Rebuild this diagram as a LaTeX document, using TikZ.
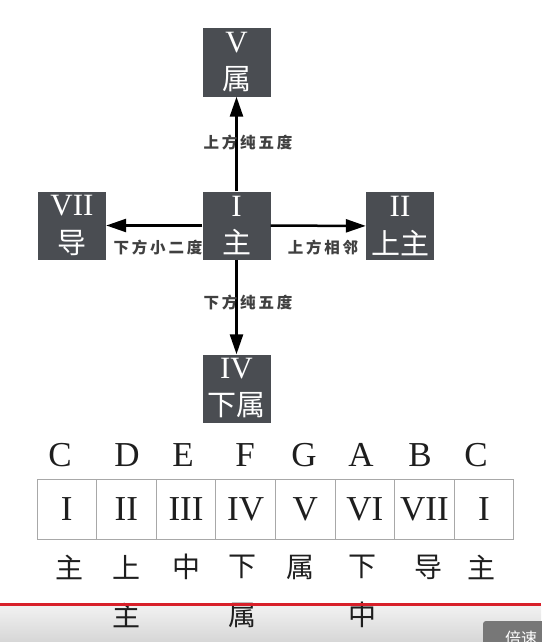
\documentclass[tikz,border=0pt]{standalone}
\usepackage{fontspec}
\setmainfont{Liberation Serif}
\newfontfamily\cjk{Noto Sans CJK SC}
\newfontfamily\cjklbl[LetterSpace=18]{Noto Sans CJK SC}
\usetikzlibrary{arrows.meta}
\definecolor{boxgray}{HTML}{4A4D52}
\definecolor{cellgray}{HTML}{A8A8A8}
\definecolor{inkdark}{HTML}{1E1E1E}
\definecolor{barred}{HTML}{D8202A}
\definecolor{bartop}{HTML}{F2F2F2}
\definecolor{barbottom}{HTML}{D6D6D6}
\definecolor{btngray}{HTML}{777777}
\begin{document}
\begin{tikzpicture}[x=1pt,y=-1pt,
  keybox/.style={fill=boxgray, draw=none, minimum width=68pt, minimum height=68pt, inner sep=0pt},
  boxnum/.style={text=white, font=\fontsize{31}{31}\selectfont, inner sep=0pt},
  boxzh/.style={text=white, font=\cjk\fontsize{29}{29}\selectfont, inner sep=0pt},
  rel/.style={line width=2.5pt, -{Triangle[length=20pt,width=13pt]}},
  rellbl/.style={font=\cjklbl\bfseries\fontsize{15.5}{15.5}\selectfont, inner sep=0pt, text=inkdark!85},
  note/.style={font=\fontsize{35}{35}\selectfont, inner sep=0pt, text=inkdark},
  cell/.style={draw=cellgray, line width=1pt, minimum width=59.6pt, minimum height=60pt, inner sep=0pt, font=\fontsize{35}{35}\selectfont, text=inkdark},
  deg/.style={font=\cjk\fontsize{28}{28}\selectfont, inner sep=0pt, text=inkdark}]
\useasboundingbox (0,0) rectangle (541,642);
\fill[white] (0,0) rectangle (541,642);

% key boxes
\node[keybox] (v) at (236.5,62.5) {};
\node[keybox] (i) at (236.5,225.5) {};
\node[keybox] (vii) at (72,225.5) {};
\node[keybox] (ii) at (400,226) {};
\node[keybox] (iv) at (236.5,388.5) {};

\node[boxnum] (vnum) at ([yshift=19.5pt]v.center) {V};
\node[boxzh] (vzh) at ([yshift=-17pt]v.center) {属};
\node[boxnum] (inum) at ([yshift=19.5pt]i.center) {I};
\node[boxzh] (izh) at ([yshift=-17pt]i.center) {主};
\node[boxnum] (viinum) at ([yshift=19.5pt]vii.center) {VII};
\node[boxzh] (viizh) at ([yshift=-17pt]vii.center) {导};
\node[boxnum] (iinum) at ([yshift=19.5pt]ii.center) {II};
\node[boxzh] (iizh) at ([yshift=-17pt]ii.center) {上主};
\node[boxnum] (ivnum) at ([yshift=19.5pt]iv.center) {IV};
\node[boxzh] (ivzh) at ([yshift=-17pt]iv.center) {下属};

% connectors
\draw[rel] (i) -- (v);
\draw[rel] (i) -- (vii);
\draw[rel] (i) -- (ii);
\draw[rel] (i) -- (iv);

\node[rellbl] (l1) at (248,143) {上方纯五度};
\node[rellbl] (l2) at (158,248) {下方小二度};
\node[rellbl] (l3) at (323,248) {上方相邻};
\node[rellbl] (l4) at (248,303) {下方纯五度};

% note letters
\foreach \n/\x/\t in {n1/60/C, n2/127/D, n3/183/E, n4/245/F, n5/304/G, n6/361/A, n7/420/B, n8/476/C}
  \node[note] (\n) at (\x,455) {\t};

% table cells
\foreach \k/\t in {0/I, 1/II, 2/III, 3/IV, 4/V, 5/VI, 6/VII, 7/I}
  \node[cell] (c\k) at ({37+59.6*(\k+0.5)},509) {\t};

% bottom overlay bar
\shade[top color=bartop, bottom color=barbottom] (0,605) rectangle (541,642);

% degree names
\foreach \n/\x/\t in {d1/69/主, d2/126/上, d3/186/中, d4/242/下, d5/300/属, d6/362/下, d7/428/导, d8/481/主}
  \node[deg] (\n) at (\x,567) {\t};
\node[deg] (e2) at (126,615) {主};
\node[deg] (e4) at (242,615) {属};
\node[deg] (e6) at (362,615) {中};

\fill[barred] (0,602.5) rectangle (541,605.5);

\fill[btngray, rounded corners=3pt] (483,621) rectangle (550,650);
\node[text=white, font=\cjk\fontsize{16}{16}\selectfont, inner sep=0pt] (speed) at (521,638) {倍速};
\end{tikzpicture}
\end{document}
